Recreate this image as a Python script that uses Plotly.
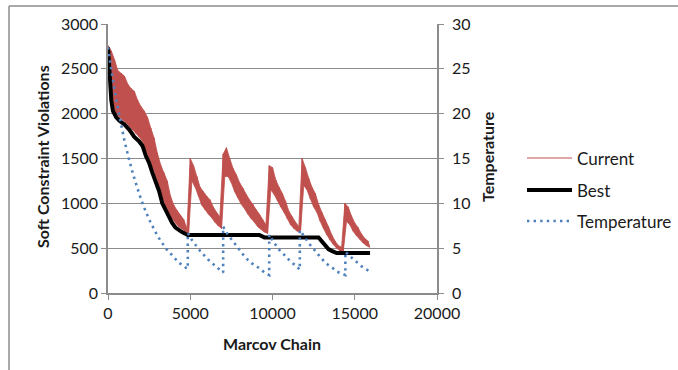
import plotly.graph_objects as go

# Markov chain step grid for the "Current" cost samples (upper / lower extent of the noisy trace)
current_x = list(range(0, 16000, 200))
current_hi = [
    2760, 2700, 2600, 2480, 2450, 2420, 2330, 2280, 2250, 2150, 2080, 2030, 1960,
    1840, 1730, 1560, 1430, 1340, 1250, 1080, 980, 920, 870, 820, 720,
    1500, 1420, 1300, 1180, 1130, 1080, 1040, 960, 900, 850,
    1550, 1620, 1500, 1390, 1320, 1230, 1170, 1100, 1040, 990, 930, 880, 820, 760,
    1420, 1400, 1260, 1180, 1110, 1020, 910, 850, 790, 740,
    1500, 1400, 1280, 1180, 1110, 990, 900, 820, 740, 650, 580, 530, 510,
    1000, 960, 860, 780, 730, 660, 610, 580,
]
current_lo = [
    2450, 2100, 2000, 1960, 1930, 1900, 1860, 1820, 1780, 1740, 1690, 1600, 1510,
    1410, 1310, 1200, 1080, 970, 890, 830, 780, 740, 715, 690, 665,
    1250, 1180, 1080, 980, 930, 880, 840, 790, 750, 720,
    1300, 1300, 1230, 1130, 1060, 990, 940, 880, 830, 790, 740, 710, 680, 665,
    1150, 1100, 1030, 960, 900, 830, 760, 720, 690, 675,
    1200, 1150, 1050, 960, 900, 800, 720, 650, 590, 540, 500, 470, 460,
    800, 760, 690, 640, 600, 560, 530, 510,
]

# Best cost found so far
best_x = [0, 50, 100, 200, 300, 500, 700, 1000, 1300, 1600, 1900, 2100, 2300, 2500,
          2700, 2900, 3100, 3300, 3500, 3700, 3900, 4100, 4300, 4500, 4700, 4850,
          9200, 9400, 9500, 12800, 13000, 13200, 13400, 13600, 13900, 14100, 15930]
best_y = [2740, 2550, 2350, 2150, 2030, 1960, 1920, 1880, 1820, 1740, 1690, 1640, 1530, 1450,
          1340, 1250, 1140, 1000, 920, 840, 780, 730, 700, 680, 660, 647,
          647, 625, 620, 620, 580, 530, 490, 470, 445, 445, 445]

# Annealing temperature with reheats
temp_x = [0, 250, 500, 750, 1000, 1250, 1500, 1750, 2000, 2250, 2500, 2750, 3000, 3250,
          3500, 3750, 4000, 4250, 4500, 4750, 4850,
          4850, 5100, 5350, 5600, 5850, 6100, 6350, 6600, 6850, 7000,
          7000, 7250, 7500, 7750, 8000, 8250, 8500, 8750, 9000, 9250, 9500, 9800,
          9800, 10000, 10250, 10500, 10750, 11000, 11250, 11500, 11660,
          11660, 11900, 12150, 12400, 12650, 12900, 13150, 13400, 13650, 13900, 14150, 14430,
          14430, 14650, 14900, 15150, 15400, 15650, 15930]
temp_y = [27.4, 24.3, 21.6, 19.2, 17.0, 15.1, 13.4, 11.9, 10.5, 9.3, 8.2, 7.3, 6.4, 5.7,
          5.0, 4.5, 4.0, 3.5, 3.1, 2.8, 2.7,
          6.7, 5.9, 5.3, 4.7, 4.2, 3.7, 3.3, 2.9, 2.5, 2.3,
          7.4, 6.6, 6.0, 5.4, 4.8, 4.2, 3.7, 3.3, 3.0, 2.7, 2.3, 2.0,
          6.5, 5.9, 5.2, 4.6, 4.2, 3.7, 3.3, 2.9, 2.6,
          7.0, 6.4, 5.7, 5.1, 4.6, 4.0, 3.5, 3.1, 2.8, 2.4, 2.2, 2.0,
          4.6, 4.2, 3.8, 3.4, 3.0, 2.7, 2.4]

x_ticks = [0, 5000, 10000, 15000, 20000]
y_ticks = [0, 500, 1000, 1500, 2000, 2500, 3000]
y2_ticks = [0, 5, 10, 15, 20, 25, 30]

RED = "#c0504d"
BLUE = "#4f81bd"
GRID = "#8c8c8c"
FONT = "Lato"
TXT = "#1a1a1a"
DOT = "2.4px,4.2px"

# Upper extents at each grid step, lower extents half a step later
lo_x = [x + 100 for x in current_x]

# Alternate between the extents so the trace reads as a noisy band
cx, cy = [], []
for x, hi, x2, lo in zip(current_x, current_hi, lo_x, current_lo):
    cx += [x, x2]
    cy += [hi, lo]

fig = go.Figure()
# Solid body of the band: upper extents forward, lower extents back
fig.add_trace(go.Scatter(x=current_x + lo_x[::-1], y=current_hi + current_lo[::-1],
                         mode="lines", fill="toself", fillcolor=RED,
                         line=dict(color=RED, width=0.8, simplify=False),
                         hoverinfo="skip", showlegend=False))
fig.add_trace(go.Scatter(x=cx, y=cy, mode="lines", name="Current",
                         line=dict(color=RED, width=1.0, simplify=False), showlegend=False))
fig.add_trace(go.Scatter(x=best_x, y=best_y, mode="lines", name="Best",
                         line=dict(color="black", width=4), showlegend=False))
fig.add_trace(go.Scatter(x=temp_x, y=temp_y, mode="lines", name="Temperature", yaxis="y2",
                         line=dict(color=BLUE, width=2.6, dash=DOT, simplify=False),
                         showlegend=False))

L, R, T, B = 108, 241, 24, 77
W, H = 678, 370
pw, ph = W - L - R, H - T - B


def px(xp):
    return (xp - L) / pw


def py(yp):
    return (H - B - yp) / ph


tickfont = dict(family=FONT, size=16, color=TXT)
axis_common = dict(zeroline=False, showline=True, linecolor=GRID, linewidth=1.5,
                   ticks="outside", ticklen=5, tickcolor=GRID, tickfont=tickfont)
fig.update_layout(
    width=W, height=H,
    margin=dict(l=L, r=R, t=T, b=B),
    paper_bgcolor="white", plot_bgcolor="white",
    xaxis=dict(range=[0, 20000], tickvals=x_ticks, ticktext=[str(v) for v in x_ticks],
               showgrid=False, **axis_common),
    yaxis=dict(range=[0, 3000], tickvals=y_ticks, ticktext=[str(v) for v in y_ticks],
               showgrid=True, gridcolor=GRID, gridwidth=1, **axis_common),
    yaxis2=dict(range=[0, 30], tickvals=y2_ticks, ticktext=[str(v) for v in y2_ticks],
                overlaying="y", side="right", showgrid=False, ticklabelstandoff=5,
                **axis_common),
)

title_font = dict(family=FONT, size=16, color=TXT)
ann = []
ann.append(dict(text="<b>Marcov Chain</b>", x=px(272), y=py(343), xref="paper", yref="paper",
                xanchor="center", yanchor="middle", showarrow=False, font=title_font))
ann.append(dict(text="<b>Soft Constraint Violations</b>", x=px(42), y=py(157), xref="paper",
                yref="paper", xanchor="center", yanchor="middle", showarrow=False,
                textangle=-90, font=title_font))
ann.append(dict(text="<b>Temperature</b>", x=px(487), y=py(157), xref="paper", yref="paper",
                xanchor="center", yanchor="middle", showarrow=False, textangle=-90,
                font=title_font))

# Legend drawn beside the plot
legend_items = [("Current", 158, dict(color=RED, width=1.2)),
                ("Best", 190, dict(color="black", width=4)),
                ("Temperature", 221, dict(color=BLUE, width=2.6, dash=DOT))]
shapes = []
for label, yy, ln in legend_items:
    shapes.append(dict(type="line", xref="paper", yref="paper", x0=px(527), x1=px(572),
                       y0=py(yy), y1=py(yy), line=ln))
    ann.append(dict(text=label, x=px(575), y=py(yy), xref="paper", yref="paper",
                    xanchor="left", yanchor="middle", showarrow=False,
                    font=dict(family=FONT, size=17, color=TXT)))

# Chart frame
shapes.append(dict(type="line", xref="paper", yref="paper", x0=px(9), x1=px(700),
                   y0=py(6), y1=py(6), line=dict(color="#8c8c8c", width=1.5)))
shapes.append(dict(type="line", xref="paper", yref="paper", x0=px(9), x1=px(9),
                   y0=py(6), y1=py(400), line=dict(color="#8c8c8c", width=1.5)))

fig.update_layout(annotations=ann, shapes=shapes)
fig.write_html("out.html")
